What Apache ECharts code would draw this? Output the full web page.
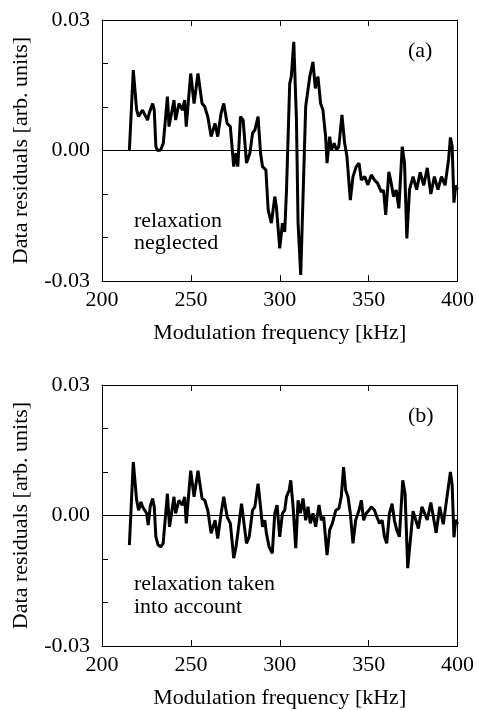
<!DOCTYPE html>
<html>
<head>
<meta charset="utf-8">
<script src="https://cdn.jsdelivr.net/npm/echarts@6/dist/echarts.min.js"></script>
<style>
html,body{margin:0;padding:0;background:#fff;}
#chart{width:477px;height:710px;}
</style>
</head>
<body>
<div id="chart"></div>
<script>
// ---- Data ----
var freqA = [215.4,217.6,219.5,220.6,222.8,225.6,226.6,228.5,229.4,230.3,231.2,233,234.5,236.8,237.7,240.5,241.4,243.3,245.2,246.5,247.4,249.9,251.8,254,256.3,257.8,259.5,261.4,263.6,265.1,267,268.5,270.4,272.2,274.1,275.4,276.4,277.9,279.4,281.3,283.2,284.7,286,287.8,289.2,290.3,292.2,293.5,295.3,297.2,298.1,300,301.5,302.8,303.8,305.6,306.5,307.9,309.4,310.3,311.8,313.1,314.6,316.9,318.7,320,321.5,323,324.3,325.8,326.6,328.1,329,330.6,331.9,333.2,335,336.5,337.8,339.7,341.2,343,344.6,345.9,347.8,349.6,351.5,353.3,355,357.1,358.4,359.6,361.4,362.7,364,365.5,367,368.9,370.2,371.5,373,375,377,379,381,383,385,387,389,391,393,395,396,397,398,399,400];
var resA = [0,0.0185,0.0093,0.0078,0.0093,0.007,0.0086,0.0108,0.0093,0.0009,0,0.0001,0.0017,0.0124,0.0055,0.0116,0.007,0.0108,0.0093,0.0116,0.0055,0.0177,0.0108,0.0177,0.0108,0.0101,0.0078,0.0032,0.0062,0.0032,0.0086,0.0108,0.0062,0.0055,-0.0037,-0.0006,-0.0037,0.0078,0.007,-0.0029,-0.0006,0.004,0.0047,0.0078,-0.0006,-0.0037,-0.0045,-0.0137,-0.0167,-0.0106,-0.0129,-0.0225,-0.0167,-0.0187,-0.0091,0.0154,0.017,0.025,0.007,-0.0167,-0.0286,-0.0106,0.0101,0.017,0.0204,0.0143,0.017,0.0108,0.0093,0.0032,-0.0029,0.0032,0.0001,0.0017,0.0001,0.0009,0.0082,0.0017,-0.0014,-0.0114,-0.006,-0.0037,-0.0029,-0.0068,-0.006,-0.0079,-0.0056,-0.0068,-0.0075,-0.0095,-0.0091,-0.0148,-0.0049,-0.0075,-0.0106,-0.0091,-0.0133,0.0009,-0.0029,-0.0202,-0.009,-0.006,-0.009,-0.005,-0.008,-0.004,-0.01,-0.006,-0.009,-0.006,-0.008,-0.002,0.003,0.001,-0.012,-0.008,-0.009];

var freqB = [215.4,217.6,219.5,220.6,221.9,222.8,225.1,226,227.1,228.5,229.4,230.3,231.6,233,234.4,236.8,238,240.5,241.4,243.3,245.2,246.5,247.4,249.9,251.8,254,256.3,257.8,259.5,261.4,263.6,265.1,267,268.5,270.4,272.2,274.1,275.4,276.4,278.5,281.3,282.8,284.7,286,287.8,289.2,290.3,291.6,292.5,294,295.8,297.2,298.5,300,301.5,302.8,303.8,305.3,306.2,307.5,309,310.3,311.6,313.1,314.6,315.9,317.2,318.7,320.2,322.1,323.4,324.7,326.6,328.1,329.6,331.5,333.3,334.6,335.9,337.1,338.4,339.7,341.2,342.7,344.6,345.9,347.2,348.7,350.2,351.5,353.3,354.6,356.1,357.6,358.9,360.2,361.7,363.2,364.5,365.8,367.3,369.2,370.5,372,375,378,380,383,385,388,390,392,394,396,397,398,399,400];
var resB = [-0.0068,0.0123,0.0035,0.0012,0.0031,0.002,0.0005,-0.0022,0.002,0.0039,0.002,-0.0049,-0.0068,-0.0072,-0.0064,0.005,-0.0026,0.0043,0.0005,0.0035,0.0024,0.0043,-0.0018,0.0103,0.0043,0.0103,0.0039,0.0035,0.0012,-0.0041,-0.0011,-0.0053,0.0005,0.0043,-0.0003,-0.0018,-0.0098,-0.0072,-0.0041,0.0027,-0.0064,-0.0049,0.0012,0.002,0.0073,0.002,-0.0026,-0.0011,-0.0041,-0.0072,-0.0087,0.0005,0.0024,-0.0049,0.0005,0.0012,0.0043,0.0058,0.0081,0.002,-0.0075,0.0035,0.0005,0.0039,-0.0011,0.002,-0.0018,0.0005,-0.0026,0.0024,-0.0011,-0.0003,-0.0091,-0.0033,-0.0018,0.0012,0.0016,0.0043,0.0111,0.0058,0.0043,0.0005,-0.0064,-0.0011,0.0012,0.0035,-0.0011,0.0005,0.0012,0.002,0.0012,-0.0003,-0.0018,-0.0011,-0.0049,-0.0064,0.0005,0.0027,-0.0011,-0.0033,-0.0049,0.0081,0.005,-0.0121,0.001,-0.003,0.002,-0.001,0.003,-0.004,0.002,-0.002,0.004,0.01,0.007,-0.005,-0.001,-0.002];

var xTicks = [200, 250, 300, 350, 400];
var yTickLabels = {'0.03': '0.03', '0': '0.00', '-0.03': '-0.03'};
var xTitle = 'Modulation frequency [kHz]';
var yTitle = 'Data residuals [arb. units]';
var panelLabels = ['(a)', '(b)'];
var panelNotes = ['relaxation\nneglected', 'relaxation taken\ninto account'];

// ---- Chart ----
var FONT = "'Liberation Serif','Times New Roman',serif";
var chart = echarts.init(document.getElementById('chart'), null, {renderer: 'canvas'});

function pairs(xs, ys) { return xs.map(function (x, i) { return [x, ys[i]]; }); }
function yFmt(v) {
  var k = Math.abs(v) < 1e-9 ? '0' : (v > 0 ? '0.03' : '-0.03');
  if (Math.abs(Math.abs(v) - 0.03) < 1e-9 || Math.abs(v) < 1e-9) return yTickLabels[k];
  return '';
}

var grids = [
  {left: 102, top: 20, width: 356, height: 261},
  {left: 102, top: 385, width: 356, height: 263}
];

var xAxes = [], yAxes = [], series = [];
grids.forEach(function (g, i) {
  xAxes.push({
    type: 'value', gridIndex: i, min: xTicks[0], max: xTicks[xTicks.length - 1], interval: 50,
    position: 'bottom',
    name: xTitle, nameLocation: 'middle', nameGap: 41,
    nameTextStyle: {fontFamily: FONT, fontSize: 22, color: '#000'},
    axisLine: {show: true, onZero: false, lineStyle: {color: '#000', width: 1}},
    axisTick: {show: true, inside: true, length: 6, lineStyle: {color: '#000'}},
    axisLabel: {show: true, fontFamily: FONT, fontSize: 22, color: '#000', margin: 8, showMinLabel: true, showMaxLabel: true},
    splitLine: {show: false}
  });
  xAxes.push({
    type: 'value', gridIndex: i, min: xTicks[0], max: xTicks[xTicks.length - 1], interval: 50,
    position: 'top',
    axisLine: {show: true, onZero: false, lineStyle: {color: '#000', width: 1}},
    axisTick: {show: true, inside: true, length: 6, lineStyle: {color: '#000'}},
    axisLabel: {show: false}, splitLine: {show: false}
  });
  yAxes.push({
    type: 'value', gridIndex: i, min: -0.03, max: 0.03, interval: 0.01,
    position: 'left',
    name: yTitle, nameLocation: 'middle', nameGap: 70, nameRotate: 90,
    nameTextStyle: {fontFamily: FONT, fontSize: 22, color: '#000'},
    axisLine: {show: true, onZero: false, lineStyle: {color: '#000', width: 1}},
    axisTick: {show: true, inside: true, length: 6, lineStyle: {color: '#000'}},
    axisLabel: {show: true, fontFamily: FONT, fontSize: 22, color: '#000', margin: 12, formatter: yFmt},
    splitLine: {show: false}
  });
  yAxes.push({
    type: 'value', gridIndex: i, min: -0.03, max: 0.03, interval: 0.01,
    position: 'right',
    axisLine: {show: true, onZero: false, lineStyle: {color: '#000', width: 1}},
    axisTick: {show: false},
    axisLabel: {show: false}, splitLine: {show: false}
  });
});

series.push({
  type: 'line', xAxisIndex: 0, yAxisIndex: 0, data: pairs(freqA, resA),
  showSymbol: false, symbol: 'none', lineStyle: {color: '#000', width: 3}, silent: true, animation: false,
  markLine: {silent: true, symbol: 'none', label: {show: false}, lineStyle: {color: '#000', width: 1, type: 'solid'}, data: [{yAxis: 0}]}
});
series.push({
  type: 'line', xAxisIndex: 2, yAxisIndex: 2, data: pairs(freqB, resB),
  showSymbol: false, symbol: 'none', lineStyle: {color: '#000', width: 3}, silent: true, animation: false,
  markLine: {silent: true, symbol: 'none', label: {show: false}, lineStyle: {color: '#000', width: 1, type: 'solid'}, data: [{yAxis: 0}]}
});

var textStyleBase = {fontFamily: FONT, fontSize: 22, fill: '#000'};
chart.setOption({
  animation: false,
  backgroundColor: '#fff',
  grid: grids,
  xAxis: xAxes,
  yAxis: yAxes,
  series: series,
  graphic: [
    {type: 'text', left: 408, top: 40, style: Object.assign({text: panelLabels[0]}, textStyleBase)},
    {type: 'text', left: 408, top: 405, style: Object.assign({text: panelLabels[1]}, textStyleBase)},
    {type: 'text', left: 134, top: 210, style: Object.assign({text: panelNotes[0], lineHeight: 22}, textStyleBase)},
    {type: 'text', left: 134, top: 573, style: Object.assign({text: panelNotes[1], lineHeight: 23}, textStyleBase)}
  ]
});
</script>
</body>
</html>
